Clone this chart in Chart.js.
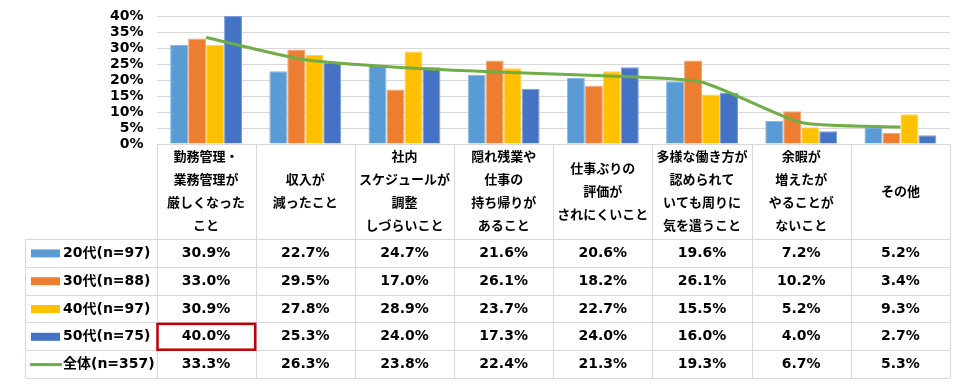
<!DOCTYPE html>
<html>
<head>
<meta charset="utf-8">
<script src="https://cdn.jsdelivr.net/npm/chart.js@4"></script>
<style>
  html, body { margin: 0; padding: 0; background: #fff; }
  #wrap { width: 967px; height: 386px; }
</style>
</head>
<body>
<div id="wrap"><canvas id="c" width="967" height="386"></canvas></div>
<script>
// categories (header row of the data table, one array per column)
var categories = [
  ['勤務管理・', '業務管理が', '厳しくなった', 'こと'],
  ['収入が', '減ったこと'],
  ['社内', 'スケジュールが', '調整', 'しづらいこと'],
  ['隠れ残業や', '仕事の', '持ち帰りが', 'あること'],
  ['仕事ぶりの', '評価が', 'されにくいこと'],
  ['多様な働き方が', '認められて', 'いても周りに', '気を遣うこと'],
  ['余暇が', '増えたが', 'やることが', 'ないこと'],
  ['その他']
];

var seriesNames = ['20代(n=97)', '30代(n=88)', '40代(n=97)', '50代(n=75)', '全体(n=357)'];

var age20 = [30.9, 22.7, 24.7, 21.6, 20.6, 19.6, 7.2, 5.2];
var age30 = [33.0, 29.5, 17.0, 26.1, 18.2, 26.1, 10.2, 3.4];
var age40 = [30.9, 27.8, 28.9, 23.7, 22.7, 15.5, 5.2, 9.3];
var age50 = [40.0, 25.3, 24.0, 17.3, 24.0, 16.0, 4.0, 2.7];
var total = [33.3, 26.3, 23.8, 22.4, 21.3, 19.3, 6.7, 5.3];

var yTicks = [0, 5, 10, 15, 20, 25, 30, 35, 40];

var colors = ['#5B9BD5', '#ED7D31', '#FFC000', '#4472C4', '#70AD47'];
var edges = ['#8CB8E2', '#F3A574', '#FFD35C', '#7C9BD6'];

var FONT = "'DejaVu Sans', 'Noto Sans CJK JP', sans-serif";
var JFONT = "'Noto Sans CJK JP', 'DejaVu Sans', sans-serif";
var GRID = '#D9D9D9';

// data table under the plot, drawn from the x scale positions
var tablePlugin = {
  id: 'dataTable',
  afterDraw: function (chart) {
    var ctx = chart.ctx;
    var x = chart.scales.x;
    var area = chart.chartArea;
    var n = categories.length;
    var colW = (area.right - area.left) / n;
    var headTop = area.bottom;
    var headBottom = 239;
    var rowH = 27.8;
    var legendLeft = 25.5;
    var rows = [age20, age30, age40, age50, total];
    var tableBottom = headBottom + rowH * rows.length;

    ctx.save();
    ctx.strokeStyle = GRID;
    ctx.lineWidth = 1;
    ctx.beginPath();
    // vertical lines
    for (var i = 0; i <= n; i++) {
      var vx = Math.round(area.left + colW * i) + 0.5;
      ctx.moveTo(vx, headTop);
      ctx.lineTo(vx, tableBottom);
    }
    ctx.moveTo(legendLeft, headBottom);
    ctx.lineTo(legendLeft, tableBottom);
    // horizontal lines
    for (var r = 0; r <= rows.length; r++) {
      var hy = Math.round(headBottom + rowH * r) + 0.5;
      ctx.moveTo(legendLeft, hy);
      ctx.lineTo(area.right, hy);
    }
    ctx.stroke();

    // header text
    ctx.fillStyle = '#000';
    ctx.textAlign = 'center';
    ctx.textBaseline = 'middle';
    ctx.font = 'bold 13px ' + JFONT;
    var lineH = 23;
    var midY = (headTop + headBottom) / 2 - 0.5;
    categories.forEach(function (lines, ci) {
      var cx = x.getPixelForValue(ci);
      var y0 = midY - (lines.length - 1) * lineH / 2;
      lines.forEach(function (t, li) {
        ctx.fillText(t, cx, y0 + li * lineH);
      });
    });

    // value cells and legend keys
    rows.forEach(function (vals, ri) {
      var cy = headBottom + rowH * ri + rowH / 2 + 0.5;
      ctx.font = 'bold 14px ' + FONT;
      ctx.textAlign = 'center';
      vals.forEach(function (v, ci) {
        ctx.fillText(v.toFixed(1) + '%', x.getPixelForValue(ci), cy);
      });
      if (ri < 4) {
        ctx.fillStyle = colors[ri];
        ctx.fillRect(31, cy - 4, 29, 8);
      } else {
        ctx.strokeStyle = colors[ri];
        ctx.lineWidth = 3;
        ctx.beginPath();
        ctx.moveTo(30, cy);
        ctx.lineTo(62, cy);
        ctx.stroke();
      }
      ctx.fillStyle = '#000';
      ctx.textAlign = 'left';
      ctx.fillText(seriesNames[ri], 63, cy);
    });

    // highlight box on 50代 / first column
    ctx.strokeStyle = '#C00000';
    ctx.lineWidth = 2.5;
    var bx = area.left + 1;
    var by = headBottom + rowH * 3 + 1.5;
    ctx.strokeRect(bx, by, colW - 1.5, rowH - 2);
    ctx.restore();
  }
};

var barSets = [age20, age30, age40, age50].map(function (d, i) {
  return {
    type: 'bar',
    label: seriesNames[i],
    data: d,
    backgroundColor: colors[i],
    borderColor: edges[i],
    borderWidth: 1,
    categoryPercentage: 0.725,
    barPercentage: 1,
    order: 1
  };
});

var lineSet = {
  type: 'line',
  label: seriesNames[4],
  data: total,
  borderColor: colors[4],
  borderWidth: 3,
  tension: 0.2,
  pointRadius: 0,
  fill: false,
  order: 0
};

new Chart(document.getElementById('c'), {
  type: 'bar',
  data: {
    labels: categories.map(function (c) { return c.join(''); }),
    datasets: barSets.concat([lineSet])
  },
  options: {
    responsive: false,
    animation: false,
    layout: { padding: { left: 0, right: 17, top: 16, bottom: 242 } },
    plugins: {
      legend: { display: false },
      tooltip: { enabled: false }
    },
    scales: {
      x: { display: false },
      y: {
        min: 0,
        max: 40,
        afterFit: function (s) {
          s.width = 156.5;
          s.paddingTop = 0;
          s.paddingBottom = 0;
        },
        afterBuildTicks: function (s) {
          s.ticks = yTicks.map(function (v) { return { value: v }; });
        },
        border: { display: false },
        grid: { color: GRID, drawTicks: false, lineWidth: 1 },
        ticks: {
          autoSkip: false,
          padding: 13,
          color: '#000',
          font: { family: FONT, size: 14, weight: 'bold' },
          callback: function (v) { return v + '%'; }
        }
      }
    }
  },
  plugins: [tablePlugin]
});
</script>
</body>
</html>
